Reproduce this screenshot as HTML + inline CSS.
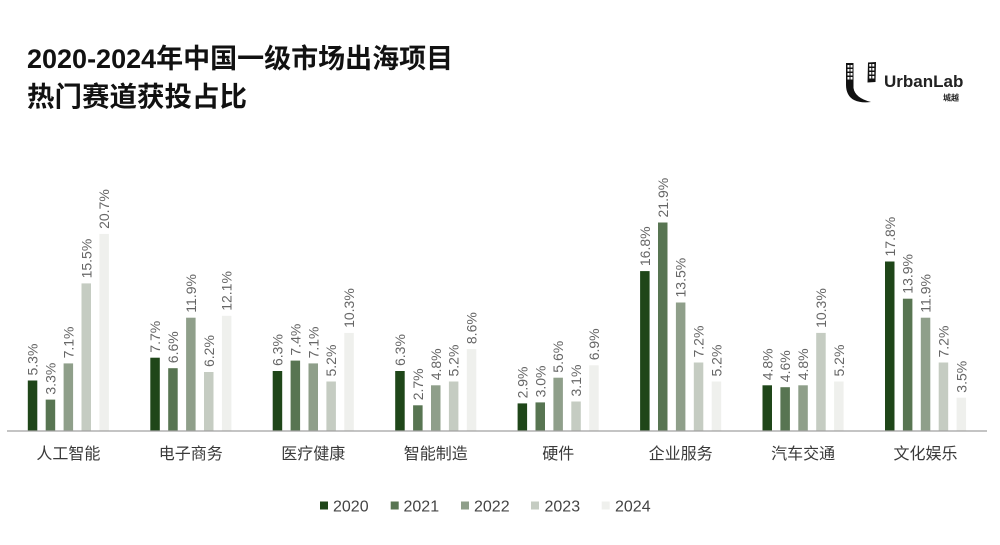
<!DOCTYPE html>
<html>
<head>
<meta charset="utf-8">
<style>
  html,body{margin:0;padding:0;background:#fff;}
  body{width:1000px;height:545px;overflow:hidden;}
  svg{display:block;}
  .t{font-family:"Liberation Sans","Noto Sans CJK SC",sans-serif;font-weight:bold;fill:#111;}
  .v{font-family:"Liberation Sans","Noto Sans CJK SC",sans-serif;font-size:14px;fill:#666;}
  .c{font-family:"Liberation Sans","Noto Sans CJK SC",sans-serif;font-size:16px;fill:#3a3a3a;}
  .l{font-family:"Liberation Sans","Noto Sans CJK SC",sans-serif;font-size:16px;fill:#444;}
  .a{fill:#1f4619}.b{fill:#587552}.d{fill:#8f9f8a}.e{fill:#c5ccc2}.f{fill:#eff0ed}
</style>
</head>
<body>
<svg width="1000" height="545" viewBox="0 0 1000 545" xmlns="http://www.w3.org/2000/svg">
  <!-- Title -->
  <text class="t" x="27" y="68" font-size="27">2020-2024年中国一级市场出海项目</text>
  <text class="t" x="27" y="106" font-size="27.5">热门赛道获投占比</text>

  <!-- Logo -->
  <g fill="#111">
    <path d="M846,63 L853.5,63 L853.5,88 Q855,98 871,102 Q853,104 848,94 Q846,90 846,85 Z"/>
    <path d="M868,62.5 L876,62 L875.5,82 L867.5,82.5 Z"/>
  </g>
  <g fill="#fff">
    <rect x="847.5" y="65" width="2" height="2.5"/><rect x="850.5" y="65" width="2" height="2.5"/>
    <rect x="847.5" y="69" width="2" height="2.5"/><rect x="850.5" y="69" width="2" height="2.5"/>
    <rect x="847.5" y="73" width="2" height="2.5"/><rect x="850.5" y="73" width="2" height="2.5"/>
    <rect x="847.5" y="77" width="2" height="2.5"/><rect x="850.5" y="77" width="2" height="2.5"/>
    <rect x="869.3" y="64" width="2" height="2.5"/><rect x="872.3" y="64" width="2" height="2.5"/>
    <rect x="869.3" y="68" width="2" height="2.5"/><rect x="872.3" y="68" width="2" height="2.5"/>
    <rect x="869.3" y="72" width="2" height="2.5"/><rect x="872.3" y="72" width="2" height="2.5"/>
    <rect x="869.3" y="76" width="2" height="2.5"/><rect x="872.3" y="76" width="2" height="2.5"/>
  </g>
  <text x="884" y="87" style="font-family:'Liberation Sans',sans-serif;font-weight:bold;font-size:17px;fill:#222;">UrbanLab</text>
  <text x="943" y="100.5" style="font-family:'Liberation Sans','Noto Sans CJK SC',sans-serif;font-weight:bold;font-size:8px;fill:#222;">城越</text>

  <!-- Bars -->
  <g>
    <rect class="a" x="27.8" y="380.5" width="9.5" height="50.5"/>
    <rect class="b" x="45.7" y="399.6" width="9.5" height="31.4"/>
    <rect class="d" x="63.6" y="363.4" width="9.5" height="67.6"/>
    <rect class="e" x="81.5" y="283.4" width="9.5" height="147.6"/>
    <rect class="f" x="99.4" y="233.9" width="9.5" height="197.1"/>

    <rect class="a" x="150.3" y="357.7" width="9.5" height="73.3"/>
    <rect class="b" x="168.2" y="368.2" width="9.5" height="62.8"/>
    <rect class="d" x="186.1" y="317.7" width="9.5" height="113.3"/>
    <rect class="e" x="204.0" y="372.0" width="9.5" height="59.0"/>
    <rect class="f" x="221.9" y="315.8" width="9.5" height="115.2"/>

    <rect class="a" x="272.7" y="371.0" width="9.5" height="60.0"/>
    <rect class="b" x="290.6" y="360.6" width="9.5" height="70.4"/>
    <rect class="d" x="308.5" y="363.4" width="9.5" height="67.6"/>
    <rect class="e" x="326.4" y="381.5" width="9.5" height="49.5"/>
    <rect class="f" x="344.3" y="332.9" width="9.5" height="98.1"/>

    <rect class="a" x="395.2" y="371.0" width="9.5" height="60.0"/>
    <rect class="b" x="413.1" y="405.3" width="9.5" height="25.7"/>
    <rect class="d" x="431.0" y="385.3" width="9.5" height="45.7"/>
    <rect class="e" x="448.9" y="381.5" width="9.5" height="49.5"/>
    <rect class="f" x="466.8" y="349.1" width="9.5" height="81.9"/>

    <rect class="a" x="517.6" y="403.4" width="9.5" height="27.6"/>
    <rect class="b" x="535.5" y="402.4" width="9.5" height="28.6"/>
    <rect class="d" x="553.4" y="377.7" width="9.5" height="53.3"/>
    <rect class="e" x="571.3" y="401.5" width="9.5" height="29.5"/>
    <rect class="f" x="589.2" y="365.3" width="9.5" height="65.7"/>

    <rect class="a" x="640.1" y="271.1" width="9.5" height="159.9"/>
    <rect class="b" x="658.0" y="222.5" width="9.5" height="208.5"/>
    <rect class="d" x="675.9" y="302.5" width="9.5" height="128.5"/>
    <rect class="e" x="693.8" y="362.5" width="9.5" height="68.5"/>
    <rect class="f" x="711.7" y="381.5" width="9.5" height="49.5"/>

    <rect class="a" x="762.5" y="385.3" width="9.5" height="45.7"/>
    <rect class="b" x="780.4" y="387.2" width="9.5" height="43.8"/>
    <rect class="d" x="798.3" y="385.3" width="9.5" height="45.7"/>
    <rect class="e" x="816.2" y="332.9" width="9.5" height="98.1"/>
    <rect class="f" x="834.1" y="381.5" width="9.5" height="49.5"/>

    <rect class="a" x="885.0" y="261.5" width="9.5" height="169.5"/>
    <rect class="b" x="902.9" y="298.7" width="9.5" height="132.3"/>
    <rect class="d" x="920.8" y="317.7" width="9.5" height="113.3"/>
    <rect class="e" x="938.7" y="362.5" width="9.5" height="68.5"/>
    <rect class="f" x="956.6" y="397.7" width="9.5" height="33.3"/>
  </g>

  <!-- Axis -->
  <line x1="7" y1="431" x2="987" y2="431" stroke="#a0a0a0" stroke-width="1.2"/>

  <!-- Value labels -->
  <g class="v">
    <text transform="translate(32.55,375.5) rotate(-90)" dy="5">5.3%</text>
    <text transform="translate(50.45,394.6) rotate(-90)" dy="5">3.3%</text>
    <text transform="translate(68.35,358.4) rotate(-90)" dy="5">7.1%</text>
    <text transform="translate(86.25,278.4) rotate(-90)" dy="5">15.5%</text>
    <text transform="translate(104.15,228.9) rotate(-90)" dy="5">20.7%</text>

    <text transform="translate(155.05,352.7) rotate(-90)" dy="5">7.7%</text>
    <text transform="translate(172.95,363.2) rotate(-90)" dy="5">6.6%</text>
    <text transform="translate(190.85,312.7) rotate(-90)" dy="5">11.9%</text>
    <text transform="translate(208.75,367.0) rotate(-90)" dy="5">6.2%</text>
    <text transform="translate(226.65,310.8) rotate(-90)" dy="5">12.1%</text>

    <text transform="translate(277.45,366.0) rotate(-90)" dy="5">6.3%</text>
    <text transform="translate(295.35,355.6) rotate(-90)" dy="5">7.4%</text>
    <text transform="translate(313.25,358.4) rotate(-90)" dy="5">7.1%</text>
    <text transform="translate(331.15,376.5) rotate(-90)" dy="5">5.2%</text>
    <text transform="translate(349.05,327.9) rotate(-90)" dy="5">10.3%</text>

    <text transform="translate(399.95,366.0) rotate(-90)" dy="5">6.3%</text>
    <text transform="translate(417.85,400.3) rotate(-90)" dy="5">2.7%</text>
    <text transform="translate(435.75,380.3) rotate(-90)" dy="5">4.8%</text>
    <text transform="translate(453.65,376.5) rotate(-90)" dy="5">5.2%</text>
    <text transform="translate(471.55,344.1) rotate(-90)" dy="5">8.6%</text>

    <text transform="translate(522.35,398.4) rotate(-90)" dy="5">2.9%</text>
    <text transform="translate(540.25,397.4) rotate(-90)" dy="5">3.0%</text>
    <text transform="translate(558.15,372.7) rotate(-90)" dy="5">5.6%</text>
    <text transform="translate(576.05,396.5) rotate(-90)" dy="5">3.1%</text>
    <text transform="translate(593.95,360.3) rotate(-90)" dy="5">6.9%</text>

    <text transform="translate(644.85,266.1) rotate(-90)" dy="5">16.8%</text>
    <text transform="translate(662.75,217.5) rotate(-90)" dy="5">21.9%</text>
    <text transform="translate(680.65,297.5) rotate(-90)" dy="5">13.5%</text>
    <text transform="translate(698.55,357.5) rotate(-90)" dy="5">7.2%</text>
    <text transform="translate(716.45,376.5) rotate(-90)" dy="5">5.2%</text>

    <text transform="translate(767.25,380.3) rotate(-90)" dy="5">4.8%</text>
    <text transform="translate(785.15,382.2) rotate(-90)" dy="5">4.6%</text>
    <text transform="translate(803.05,380.3) rotate(-90)" dy="5">4.8%</text>
    <text transform="translate(820.95,327.9) rotate(-90)" dy="5">10.3%</text>
    <text transform="translate(838.85,376.5) rotate(-90)" dy="5">5.2%</text>

    <text transform="translate(889.75,256.5) rotate(-90)" dy="5">17.8%</text>
    <text transform="translate(907.65,293.7) rotate(-90)" dy="5">13.9%</text>
    <text transform="translate(925.55,312.7) rotate(-90)" dy="5">11.9%</text>
    <text transform="translate(943.45,357.5) rotate(-90)" dy="5">7.2%</text>
    <text transform="translate(961.35,392.7) rotate(-90)" dy="5">3.5%</text>
  </g>

  <!-- Category labels -->
  <g class="c" text-anchor="middle">
    <text x="68.4" y="459">人工智能</text>
    <text x="190.8" y="459">电子商务</text>
    <text x="313.3" y="459">医疗健康</text>
    <text x="435.7" y="459">智能制造</text>
    <text x="558.2" y="459">硬件</text>
    <text x="680.6" y="459">企业服务</text>
    <text x="803.1" y="459">汽车交通</text>
    <text x="925.5" y="459">文化娱乐</text>
  </g>

  <!-- Legend -->
  <rect class="a" x="320" y="501.5" width="8" height="8"/>
  <text class="l" x="333" y="511.5">2020</text>
  <rect class="b" x="390.7" y="501.5" width="8" height="8"/>
  <text class="l" x="403.5" y="511.5">2021</text>
  <rect class="d" x="461" y="501.5" width="8" height="8"/>
  <text class="l" x="474" y="511.5">2022</text>
  <rect class="e" x="531" y="501.5" width="8" height="8"/>
  <text class="l" x="544.5" y="511.5">2023</text>
  <rect class="f" x="601.7" y="501.5" width="8" height="8"/>
  <text class="l" x="615" y="511.5">2024</text>
</svg>
</body>
</html>
